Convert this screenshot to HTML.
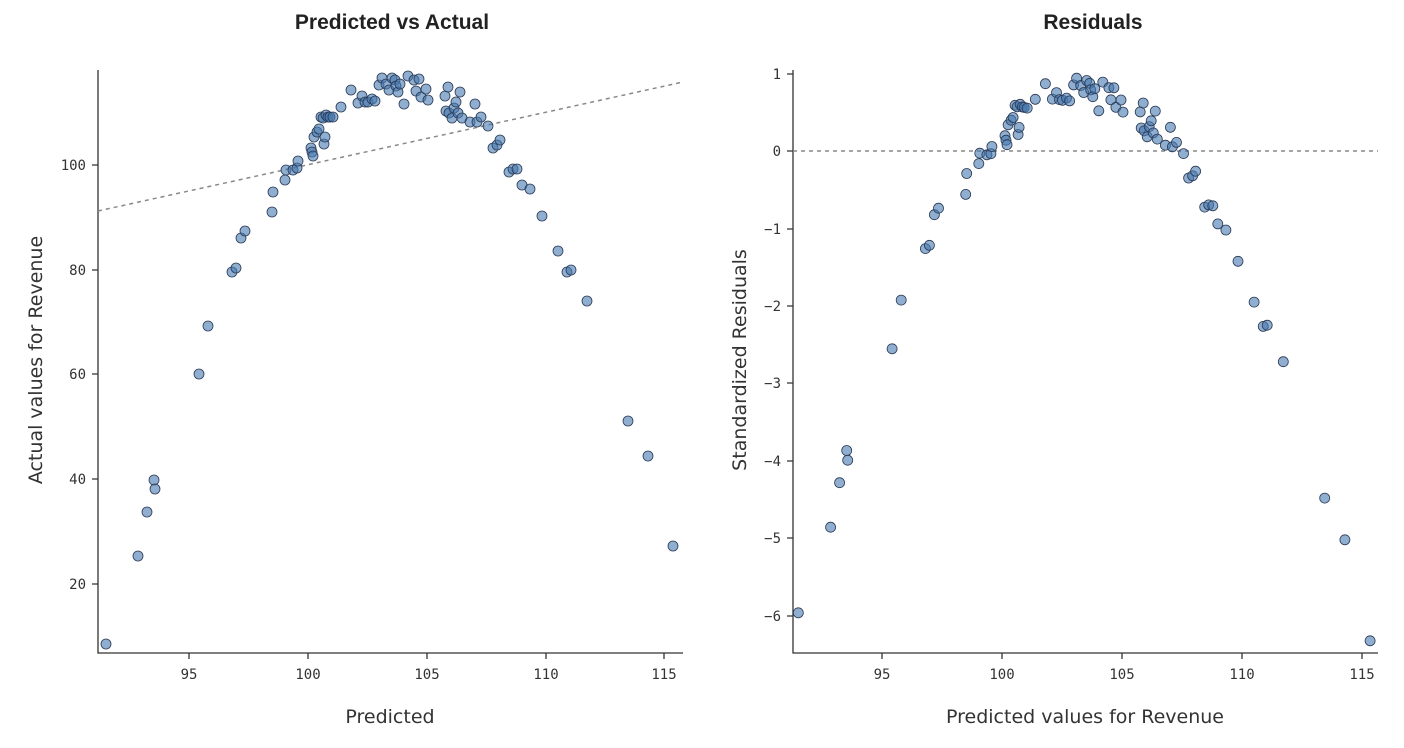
<!DOCTYPE html>
<html><head><meta charset="utf-8"><style>
body{margin:0;background:#fff;}
svg{display:block;}
.t{font-family:"Liberation Sans",sans-serif;font-weight:bold;font-size:21px;fill:#222;}
.l{font-family:"DejaVu Sans","Liberation Sans",sans-serif;font-size:19px;fill:#333;}
.k{font-family:"DejaVu Sans Mono","Liberation Mono",monospace;font-size:14px;fill:#333;}
</style></head><body>
<svg id="s" width="1404" height="748" xmlns="http://www.w3.org/2000/svg">
<text class="t" x="392" y="29" text-anchor="middle">Predicted vs Actual</text>
<text class="t" x="1093" y="29" text-anchor="middle">Residuals</text>
<g stroke="#333" stroke-width="1.3" fill="none">
<path d="M98,70V653H683"/>
<path d="M793,70V653H1378"/>
<path d="M189,653v6M308,653v6M427,653v6M546,653v6M664,653v6M92,165h6M92,270h6M92,374h6M92,479h6M92,584h6"/>
<path d="M882,653v6M1002,653v6M1122,653v6M1242,653v6M1362,653v6M787,74h6M787,151h6M787,229h6M787,306h6M787,383h6M787,461h6M787,538h6M787,616h6"/>
</g>
<g stroke="#888" stroke-width="1.5" stroke-dasharray="4,4">
<line x1="98" y1="211" x2="683" y2="82"/>
<line x1="793" y1="151" x2="1378" y2="151"/>
</g>
<g class="k" text-anchor="middle">
<text x="189" y="679">95</text><text x="308" y="679">100</text><text x="427" y="679">105</text><text x="546" y="679">110</text><text x="664" y="679">115</text>
<text x="882" y="679">95</text><text x="1002" y="679">100</text><text x="1122" y="679">105</text><text x="1242" y="679">110</text><text x="1362" y="679">115</text>
</g>
<g class="k" text-anchor="end">
<text x="86" y="170">100</text><text x="86" y="275">80</text><text x="86" y="379">60</text><text x="86" y="484">40</text><text x="86" y="589">20</text>
<text x="781" y="79">1</text><text x="781" y="156">0</text><text x="781" y="234">−1</text><text x="781" y="311">−2</text><text x="781" y="388">−3</text><text x="781" y="466">−4</text><text x="781" y="543">−5</text><text x="781" y="621">−6</text>
</g>
<text class="l" x="390" y="723" text-anchor="middle">Predicted</text>
<text class="l" x="1085" y="723" text-anchor="middle">Predicted values for Revenue</text>
<text class="l" transform="translate(42,360) rotate(-90)" text-anchor="middle">Actual values for Revenue</text>
<text class="l" transform="translate(746,360) rotate(-90)" text-anchor="middle">Standardized Residuals</text>
<g id="pts" fill="rgba(70,120,175,0.6)" stroke="#2a3a55" stroke-width="0.8"></g>
</svg>
<script>
var P=[[106,644],[138,556],[147,512],[154,480],[155,489],[199,374],[208,326],[232,272],[236,268],[241,238],[245,231],[272,212],[273,192],[285,180],[286,170],[293,170],[297,168],[298,161],[311,148],[312,152],[313,156],[314,137],[317,132],[319,129],[321,117],[323,118],[324,144],[325,137],[326,115],[328,117],[330,117],[333,117],[341,107],[351,90],[358,103],[362,96],[365,102],[368,102],[372,99],[375,101],[379,85],[382,78],[386,84],[389,90],[392,78],[395,80],[396,86],[398,92],[400,84],[404,104],[408,76],[414,80],[416,91],[419,79],[421,97],[426,89],[428,100],[445,96],[446,111],[448,87],[449,113],[452,118],[454,108],[456,102],[458,113],[460,92],[462,118],[470,122],[475,104],[477,122],[481,117],[488,126],[493,148],[497,145],[500,140],[509,172],[513,169],[517,169],[522,185],[530,189],[542,216],[558,251],[567,272],[571,270],[587,301],[628,421],[648,456],[673,546]];
var g=document.getElementById('pts'),h='';
P.forEach(function(p){
 var pred=95+(p[0]-189)/23.8, act=(688.5-p[1])/5.225;
 var r=0.0715*(act-pred)-0.04;
 var xr=882+(pred-95)*24, yr=151-r*77.3;
 h+='<circle cx="'+p[0]+'" cy="'+p[1]+'" r="5"/><circle cx="'+xr.toFixed(1)+'" cy="'+yr.toFixed(1)+'" r="5"/>';
});
g.innerHTML=h;
</script>
</body></html>
